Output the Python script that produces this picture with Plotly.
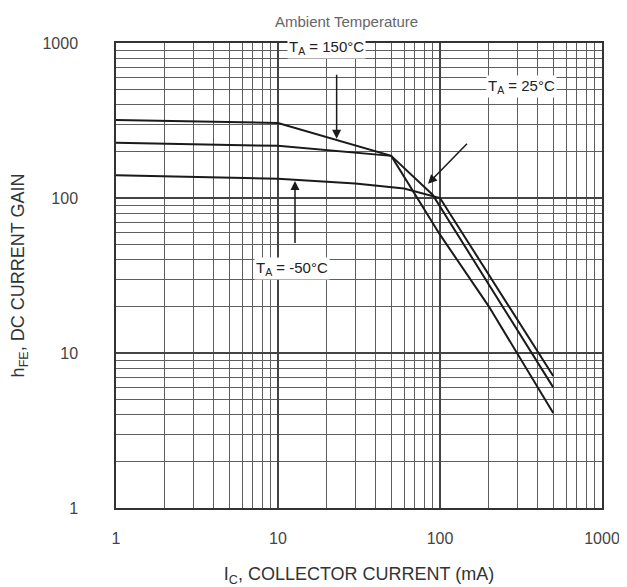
import plotly.graph_objects as go

# Data (log-log hFE vs IC)
ic_150 = [1, 10, 50, 100, 200, 500]
hfe_150 = [319, 305, 187, 58, 20, 4.1]

ic_25 = [1, 10, 50, 90, 500]
hfe_25 = [227, 217, 187, 105, 6.0]

ic_m50 = [1, 10, 30, 60, 100, 500]
hfe_m50 = [140, 133, 124, 115, 100, 7.1]

x_ticks = [1, 10, 100, 1000]
y_ticks = [1, 10, 100, 1000]

line_style = dict(color="#1a1a1a", width=2)

fig = go.Figure()
fig.add_trace(go.Scatter(x=ic_150, y=hfe_150, mode="lines", line=line_style, showlegend=False))
fig.add_trace(go.Scatter(x=ic_25, y=hfe_25, mode="lines", line=line_style, showlegend=False))
fig.add_trace(go.Scatter(x=ic_m50, y=hfe_m50, mode="lines", line=line_style, showlegend=False))

grid_col = "#5e5e5e"
axis_common = dict(
    type="log",
    range=[0, 3],
    showline=True,
    linecolor="#333",
    linewidth=1.5,
    mirror=True,
    showgrid=True,
    gridcolor="#444",
    gridwidth=1.5,
    minor=dict(dtick="D1", showgrid=True, gridcolor=grid_col, gridwidth=1, ticks=""),
    zeroline=False,
    automargin=False,
    tickfont=dict(family="Liberation Sans, Arial", size=16, color="#444"),
    ticks="",
)

fig.update_xaxes(
    **axis_common,
    tickvals=x_ticks,
    ticktext=[str(v) for v in x_ticks],
    ticklabelstandoff=15,
    title=dict(text="I<sub>C</sub>, COLLECTOR CURRENT (mA)",
               font=dict(family="Liberation Sans, Arial", size=18, color="#333"),
               standoff=24),
)
fig.update_yaxes(
    **axis_common,
    tickvals=y_ticks,
    ticktext=[str(v) for v in y_ticks],
    ticklabelstandoff=33,
    title=dict(text="h<sub>FE</sub>, DC CURRENT GAIN",
               font=dict(family="Liberation Sans, Arial", size=18, color="#333"),
               standoff=15),
)

lbl_font = dict(family="Liberation Sans, Arial", size=15, color="#222")
arrow_kw = dict(showarrow=True, arrowhead=2, arrowsize=1.2, arrowwidth=1.5,
                arrowcolor="#1a1a1a", axref="pixel", ayref="pixel", text=" ")

annotations = [
    # arrows
    dict(x=1.362, y=2.382, xref="x", yref="y", ax=0, ay=-74, **arrow_kw),
    dict(x=1.926, y=2.092, xref="x", yref="y", ax=42, ay=-43, **arrow_kw),
    dict(x=1.105, y=2.11, xref="x", yref="y", ax=0, ay=72, **arrow_kw),
    # labels
    dict(x=1.30, y=2.968, xref="x", yref="y", text="T<sub>A</sub> = 150°C", showarrow=False,
         font=lbl_font, bgcolor="white", borderpad=1),
    dict(x=2.50, y=2.72, xref="x", yref="y", text="T<sub>A</sub> = 25°C", showarrow=False,
         font=lbl_font, bgcolor="white", borderpad=1),
    dict(x=1.086, y=1.545, xref="x", yref="y", text="T<sub>A</sub> = -50°C", showarrow=False,
         font=lbl_font, bgcolor="white", borderpad=1),
    # header
    dict(x=0.475, y=1.0, xref="paper", yref="paper", yanchor="middle", yshift=22,
         text="Ambient Temperature", showarrow=False,
         font=dict(family="Liberation Sans, Arial", size=15, color="#666")),
]

# page body has an 8px default margin; size the figure to fit the 627x587 window
fig.update_layout(
    width=619,
    height=579,
    margin=dict(l=108, r=25, t=35, b=79),
    paper_bgcolor="white",
    plot_bgcolor="white",
    annotations=annotations,
)

fig.write_html("out.html")
